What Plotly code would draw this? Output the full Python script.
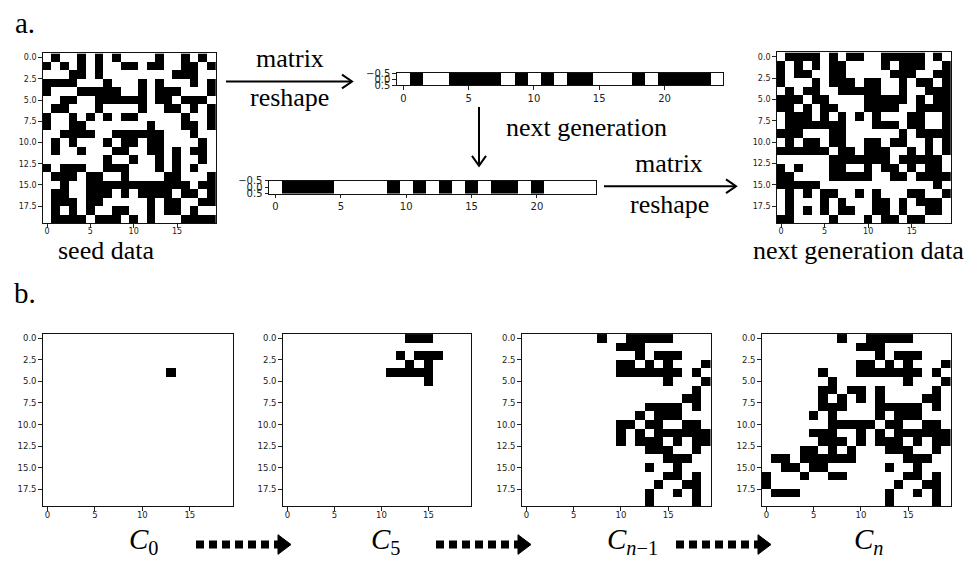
import plotly.graph_objects as go

W, H = 977, 567
OFF = 8  # page body margin of the written html

# ---------------- data ----------------
seed_rows = [
    "01001010100001001010",
    "10101010011011001101",
    "00011010000000011100",
    "11110001000101000101",
    "10001111100101110001",
    "00110011111101101110",
    "01100010000100110101",
    "10010101011000001001",
    "10011000000010001101",
    "00111100111111000100",
    "01010001011011000010",
    "01001000110011010110",
    "00000001001001010010",
    "10111001110001010100",
    "01110110010000110001",
    "00100111111111111011",
    "01100111010111101101",
    "01110110000010110011",
    "01010100110010110100",
    "01111011101010001111",
]

next_rows = [
    "01111010110011111010",
    "10101011000010111001",
    "10110011000001110011",
    "10001011101100101101",
    "01011001111100100111",
    "11101100001111101011",
    "11010110001111001111",
    "01110101010100011001",
    "01111111000111011001",
    "11100011000000101111",
    "01011011001101100101",
    "11111101101110010101",
    "00000011111110111110",
    "10100011001011010110",
    "11000011111001101111",
    "11111000000000000010",
    "01010110010100011001",
    "01000101000110101110",
    "01010101100110100110",
    "11000010001011011000",
]

strip_top = [0, 1, 0, 0, 1, 1, 1, 1, 0, 1, 0, 1, 0, 1, 1, 0, 0, 0, 1, 0, 1, 1, 1, 1, 0]
strip_bottom = [0, 1, 1, 1, 1, 0, 0, 0, 0, 1, 0, 1, 0, 1, 0, 1, 0, 1, 1, 0, 1, 0, 0, 0, 0]

c0_rows = [
    "00000000000000000000",
    "00000000000000000000",
    "00000000000000000000",
    "00000000000000000000",
    "00000000000001000000",
    "00000000000000000000",
    "00000000000000000000",
    "00000000000000000000",
    "00000000000000000000",
    "00000000000000000000",
    "00000000000000000000",
    "00000000000000000000",
    "00000000000000000000",
    "00000000000000000000",
    "00000000000000000000",
    "00000000000000000000",
    "00000000000000000000",
    "00000000000000000000",
    "00000000000000000000",
    "00000000000000000000",
]

c5_rows = [
    "00000000000001110000",
    "00000000000000000000",
    "00000000000010111000",
    "00000000000001010000",
    "00000000000111110000",
    "00000000000000010000",
    "00000000000000000000",
    "00000000000000000000",
    "00000000000000000000",
    "00000000000000000000",
    "00000000000000000000",
    "00000000000000000000",
    "00000000000000000000",
    "00000000000000000000",
    "00000000000000000000",
    "00000000000000000000",
    "00000000000000000000",
    "00000000000000000000",
    "00000000000000000000",
    "00000000000000000000",
]

cn1_rows = [
    "00000000100111110000",
    "00000000001110000000",
    "00000000000010111000",
    "00000000001101010001",
    "00000000001111111010",
    "00000000000000010001",
    "00000000000000000010",
    "00000000000000000110",
    "00000000000001111010",
    "00000000000010111000",
    "00000000001101100110",
    "00000000001010111111",
    "00000000001011101011",
    "00000000000001110010",
    "00000000000000011100",
    "00000000000001001000",
    "00000000000000011010",
    "00000000000000100110",
    "00000000000001001010",
    "00000000000001000010",
]

cn_rows = [
    "00000000100111110000",
    "00000000001110000000",
    "00000000000010111000",
    "00000000001101010001",
    "00000010001111111010",
    "00000001000000010001",
    "00000011011010000010",
    "00000010101010000110",
    "00000011100011111010",
    "00000101000010111000",
    "00000001111101100110",
    "00000111001010111111",
    "00000011101011101011",
    "00001101010001110010",
    "01101111110000011100",
    "00110110000001001000",
    "10001001100000011010",
    "10000000000000100110",
    "01110000000001001010",
    "00000000000001000010",
]

mat_tickvals = [0, 2.5, 5, 7.5, 10, 12.5, 15, 17.5]
mat_ticktext = ["0.0", "2.5", "5.0", "7.5", "10.0", "12.5", "15.0", "17.5"]
mat_xticks = [0, 5, 10, 15]
strip_xticks = [0, 5, 10, 15, 20]
strip_yticks = [-0.5, 0, 0.5]
strip_yticktext = ["\u22120.5", "0.0", "0.5"]

# ---------------- helpers ----------------
def to_z(rows):
    return [[int(ch) for ch in r] for r in rows]

def X(px):
    return (px - OFF) / W

def Y(py):
    return 1 - (py - OFF) / H

CS = [[0, "white"], [1, "black"]]
SERIF = "Liberation Serif, Times New Roman, serif"
TICKFONT = "DejaVu Sans, sans-serif"

fig = go.Figure()
layout = {}

def add_panel(idx, z, box, kind, tfs):
    x0, y0, x1, y1 = box
    xa = "xaxis" if idx == 1 else f"xaxis{idx}"
    ya = "yaxis" if idx == 1 else f"yaxis{idx}"
    xr = "x" if idx == 1 else f"x{idx}"
    yr = "y" if idx == 1 else f"y{idx}"
    ncol = len(z[0])
    nrow = len(z)
    fig.add_trace(go.Heatmap(
        z=z, x=list(range(ncol)), y=list(range(nrow)),
        colorscale=CS, zmin=0, zmax=1, showscale=False,
        xaxis=xr, yaxis=yr, hoverinfo="skip"))
    common = dict(showline=True, mirror=True, linecolor="#111", linewidth=1,
                  ticks="outside", ticklen=3.5, tickwidth=0.8, tickcolor="#222",
                  showgrid=False, zeroline=False, fixedrange=True,
                  tickfont=dict(family=TICKFONT, size=tfs, color="#222"))
    if kind == "mat":
        layout[xa] = dict(domain=[X(x0), X(x1)], anchor=yr, range=[-0.5, ncol - 0.5],
                          tickvals=mat_xticks, ticklabelstandoff=-3, **common)
        layout[ya] = dict(domain=[Y(y1), Y(y0)], anchor=xr, range=[nrow - 0.5, -0.5],
                          tickvals=mat_tickvals, ticktext=mat_ticktext, **common)
    else:
        layout[xa] = dict(domain=[X(x0), X(x1)], anchor=yr, range=[-0.5, ncol - 0.5],
                          tickvals=strip_xticks, **common)
        layout[ya] = dict(domain=[Y(y1), Y(y0)], anchor=xr, range=[0.5, -0.5],
                          tickvals=strip_yticks, ticktext=strip_yticktext, **common)

add_panel(1, to_z(seed_rows), (42.7, 48.3, 216, 221.7), "mat", 8)
add_panel(2, [strip_top], (396.8, 68.3, 723.3, 81), "strip", 10)
add_panel(3, [strip_bottom], (269, 178.3, 595.7, 191.7), "strip", 10)
add_panel(4, to_z(next_rows), (776.7, 47.3, 951, 221.7), "mat", 8)
add_panel(5, to_z(c0_rows), (42.7, 335, 232.5, 511), "mat", 8.5)
add_panel(6, to_z(c5_rows), (282.7, 335, 470.7, 511), "mat", 8.5)
add_panel(7, to_z(cn1_rows), (521.7, 335, 710.7, 511), "mat", 8.5)
add_panel(8, to_z(cn_rows), (761.7, 335, 950.7, 511), "mat", 8.5)

# ---------------- annotations ----------------
annotations = []

def txt(s, px, py, size=26, font=SERIF):
    annotations.append(dict(text=s, x=X(px), y=Y(py), xref="paper", yref="paper",
                            showarrow=False, xanchor="center", yanchor="middle",
                            font=dict(family=font, size=size, color="black")))

txt("a.", 25, 17, 29)
txt("seed data", 106, 250)
txt("matrix", 290, 53)
txt("reshape", 289, 93)
txt("next generation", 586, 124)
txt("matrix", 669, 161)
txt("reshape", 669, 203)
txt("next generation data", 858, 250)
txt("b.", 25, 293, 29)

CM = "Liberation Serif, Times New Roman, serif"
txt("<i>C</i><sub>0</sub>", 143, 546, 29, CM)
txt("<i>C</i><sub>5</sub>", 385, 546, 29, CM)
txt("<i>C</i><sub><i>n</i>\u22121</sub>", 632, 546, 29, CM)
txt("<i>C</i><sub><i>n</i></sub>", 868, 546, 29, CM)

# ---------------- arrows (shapes) ----------------
shapes = []

def line(x0, y0, x1, y1, w=2, dash="solid"):
    shapes.append(dict(type="line", xref="paper", yref="paper",
                       x0=X(x0), y0=Y(y0), x1=X(x1), y1=Y(y1),
                       line=dict(color="black", width=w, dash=dash)))

def path(points, fill=False, w=2):
    p = "M " + " L ".join(f"{X(a):.5f},{Y(b):.5f}" for a, b in points)
    if fill:
        p += " Z"
    shapes.append(dict(type="path", xref="paper", yref="paper", path=p,
                       line=dict(color="black", width=w),
                       fillcolor="black" if fill else "rgba(0,0,0,0)"))

# solid arrows in panel a
line(226, 77, 352, 77)
path([(342, 70), (352, 77), (342, 84)])
line(479, 103, 479, 163)
path([(472, 153), (479, 163), (486, 153)])
line(604, 184, 736, 184)
path([(726, 177), (736, 184), (726, 191)])

# dashed arrows in panel b
for xs in (196, 436, 676):
    line(xs, 550, xs + 83, 550, w=8, dash="8px,5px")
    path([(xs + 82, 540), (xs + 95, 550), (xs + 82, 560)], fill=True, w=1)

fig.update_layout(
    width=W, height=H, autosize=False,
    margin=dict(l=0, r=0, t=0, b=0),
    paper_bgcolor="white", plot_bgcolor="white",
    showlegend=False,
    annotations=annotations, shapes=shapes,
    **layout,
)

fig.write_html("out.html")
